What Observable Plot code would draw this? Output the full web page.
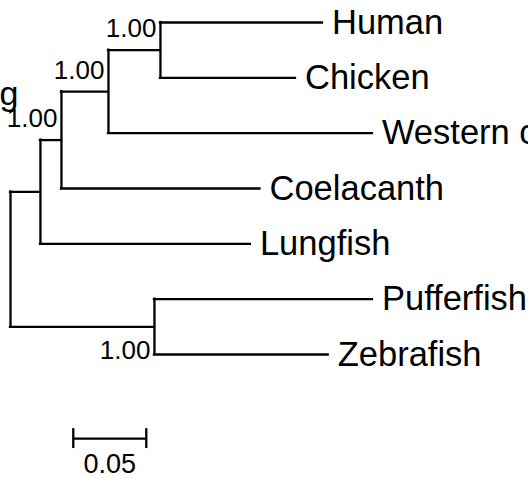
<!DOCTYPE html>
<html>
<head>
<meta charset="utf-8">
<script src="https://cdn.jsdelivr.net/npm/d3@7"></script>
<script src="https://cdn.jsdelivr.net/npm/@observablehq/plot@0.6"></script>
<style>
  html, body { margin: 0; padding: 0; background: #fff; }
  #chart { width: 528px; height: 478px; overflow: hidden; }
</style>
</head>
<body>
<div id="chart"></div>
<script>
// ---- Tree data ----
const nodeNames    = ["root", "n1", "n2", "n3", "n4", "Human", "Chicken", "Western clawed frog", "Coelacanth", "Lungfish", "n5", "Pufferfish", "Zebrafish"];
const nodeParents  = [null,   "root", "n1", "n2", "n3", "n4",   "n4",      "n3",                  "n2",         "n1",       "root", "n5",        "n5"];
const branchLengths= [0,      0.0205, 0.0144, 0.0322, 0.0356, 0.111, 0.0925, 0.1808,             0.136,        0.1438,     0.0986, 0.1493,      0.119];
const supportNames = ["n4", "n3", "n2", "n5"];
const supportValues= ["1.00", "1.00", "1.00", "1.00"];
const supportSide  = ["above", "above", "above", "below"];
const scaleBarLength = [0.05];
const scaleBarLabel  = ["0.05"];
const clippedText    = ["g"];

// ---- Build tree layout ----
const nodes = nodeNames.map((name, i) => ({name, parent: nodeParents[i], len: branchLengths[i], children: []}));
const byName = new Map(nodes.map(d => [d.name, d]));
nodes.forEach(d => { if (d.parent) byName.get(d.parent).children.push(d); });
const root = byName.get("root");
let leafIndex = 0;
(function layout(n, x0) {
  n.x = x0 + n.len;
  if (n.children.length === 0) { n.y = leafIndex++; return; }
  n.children.forEach(c => layout(c, n.x));
  n.yMin = d3.min(n.children, c => c.y);
  n.yMax = d3.max(n.children, c => c.y);
  n.y = (n.yMin + n.yMax) / 2;
})(root, 0);
nodes.forEach(d => { if (d.parent) d.px = byName.get(d.parent).x; });

const branches = nodes.filter(d => d.parent);
const internals = nodes.filter(d => d.children.length);
const leaves = nodes.filter(d => !d.children.length);
const supports = supportNames.map((n, i) => ({...byName.get(n), label: supportValues[i], side: supportSide[i]}));

const barStart = 0.043;
const barY = 7.52;
const bar = [{x1: barStart, x2: barStart + scaleBarLength[0], y: barY, label: scaleBarLabel[0]}];

const font = "'Liberation Sans', Arial, Helvetica, sans-serif";
const sw = 2.3;

const chart = Plot.plot({
  width: 528,
  height: 478,
  margin: 0,
  style: {fontFamily: font, background: "#fff"},
  x: {domain: [0, 0.36], range: [10, 10 + 0.36 * 1460], axis: null},
  y: {domain: [0, 6], range: [22, 354], axis: null},
  marks: [
    Plot.ruleY(branches, {x1: "px", x2: "x", y: "y", stroke: "#000", strokeWidth: sw, strokeLinecap: "square"}),
    Plot.ruleX(internals, {x: "x", y1: "yMin", y2: "yMax", stroke: "#000", strokeWidth: sw, strokeLinecap: "square"}),
    Plot.text(leaves, {x: "x", y: "y", text: "name", textAnchor: "start", dx: 9.5, dy: 0, fontSize: 34.5, fill: "#000"}),
    Plot.text(supports.filter(d => d.side === "above"), {x: "x", y: "y", text: "label", textAnchor: "end", dx: -4, dy: -21, fontSize: 26, fill: "#000"}),
    Plot.text(supports.filter(d => d.side === "below"), {x: "x", y: "y", text: "label", textAnchor: "end", dx: -4, dy: 24, fontSize: 26, fill: "#000"}),
    // scale bar
    Plot.ruleY(bar, {x1: "x1", x2: "x2", y: "y", stroke: "#000", strokeWidth: sw}),
    Plot.ruleX(bar, {x: "x1", y1: d => d.y - 0.18, y2: d => d.y + 0.18, stroke: "#000", strokeWidth: sw}),
    Plot.ruleX(bar, {x: "x2", y1: d => d.y - 0.18, y2: d => d.y + 0.18, stroke: "#000", strokeWidth: sw}),
    Plot.text(bar, {x: d => (d.x1 + d.x2) / 2, y: "y", text: "label", dy: 26, fontSize: 27, fill: "#000"}),
    // clipped label fragment at the left edge
    Plot.text(clippedText, {frameAnchor: "top-left", lineAnchor: "middle", text: d => d, textAnchor: "start", dx: -1, dy: 94, fontSize: 34, fill: "#000"})
  ]
});
document.getElementById("chart").append(chart);
</script>
</body>
</html>
